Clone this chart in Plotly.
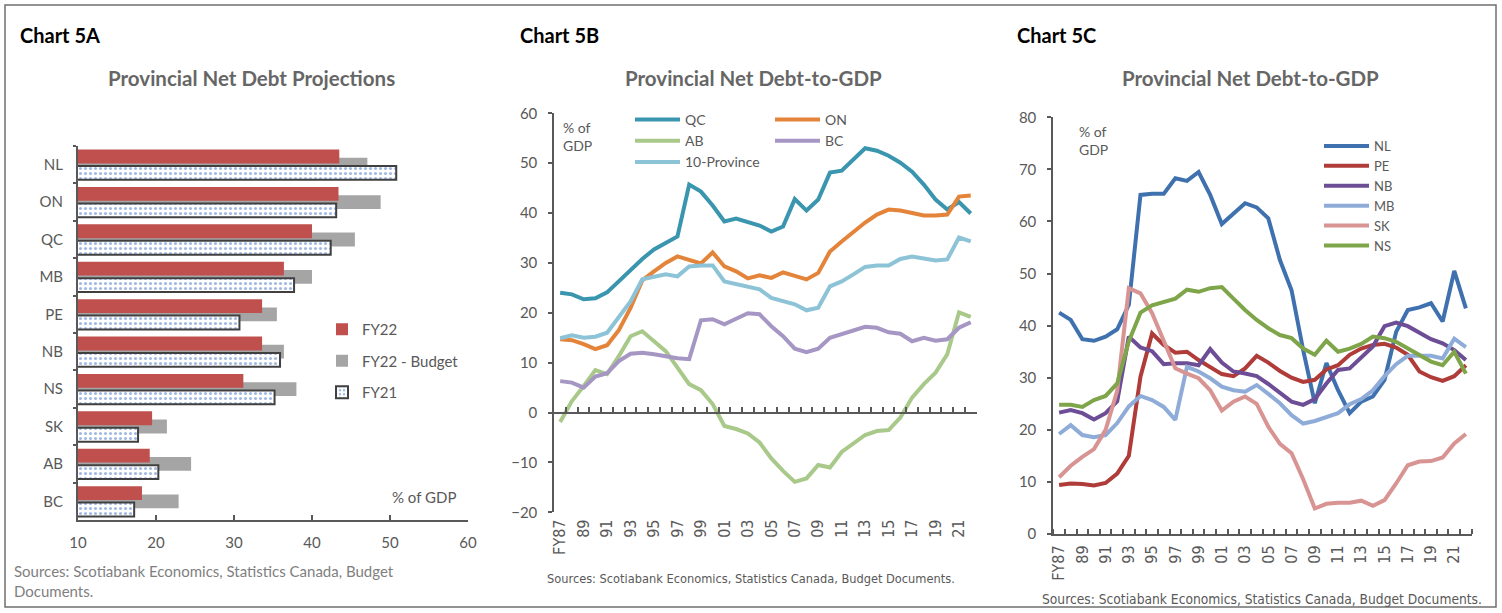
import plotly.graph_objects as go

W, H = 1502, 613
def fx(p): return p / W
def fy(p): return 1 - p / H

HUM = "Lato, 'Open Sans', sans-serif"
NARROW = "'Liberation Sans Narrow', 'Arial Narrow', 'DejaVu Sans Condensed', sans-serif"
GRAY = "#595959"
AXIS = "#595959"

# ---------------- Chart 5A data ----------------
provinces = ["NL", "ON", "QC", "MB", "PE", "NB", "NS", "SK", "AB", "BC"]
fy22 = [43.5, 43.4, 40.0, 36.4, 33.6, 33.6, 31.2, 19.5, 19.2, 18.2]
fy22_budget = [47.1, 48.8, 45.5, 40.0, 35.5, 36.4, 38.0, 21.4, 24.5, 22.9]
fy21 = [50.8, 43.1, 42.4, 37.7, 30.7, 35.9, 35.2, 17.7, 20.3, 17.2]

# ---------------- Years / tick labels ----------------
fiscal_years = list(range(1987, 2023))
label_years = [1987, 1989, 1991, 1993, 1995, 1997, 1999, 2001, 2003, 2005,
               2007, 2009, 2011, 2013, 2015, 2017, 2019, 2021]
label_text = ["FY87", "89", "91", "93", "95", "97", "99", "01", "03", "05",
              "07", "09", "11", "13", "15", "17", "19", "21"]
boundaries = [y - 0.5 for y in fiscal_years] + [fiscal_years[-1] + 0.5]

# ---------------- Chart 5B data ----------------
qc = [24.0, 23.7, 22.7, 22.9, 24.1, 26.3, 28.7, 30.8, 32.7, 33.9, 35.3, 45.7,
      44.3, 41.5, 38.3, 38.9, 38.3, 37.5, 36.3, 37.3, 42.8, 40.5, 42.7, 48.1,
      48.5, 50.8, 53.0, 52.5, 51.5, 50.1, 48.3, 45.7, 42.7, 40.7, 42.2, 39.9]
on = [14.7, 14.5, 13.7, 12.7, 13.5, 16.5, 21.0, 26.5, 28.3, 30.0, 31.3, 30.7,
      29.9, 32.1, 29.3, 28.3, 26.9, 27.5, 27.0, 28.1, 27.3, 26.7, 28.0, 32.3,
      34.3, 36.3, 38.1, 39.7, 40.7, 40.5, 40.0, 39.5, 39.5, 39.7, 43.3, 43.5]
ab = [-1.9, 2.3, 5.3, 8.5, 7.7, 11.3, 15.3, 16.3, 14.3, 12.3, 9.0, 5.7,
      4.5, 1.7, -2.7, -3.3, -4.2, -6.0, -9.2, -11.7, -13.9, -13.2, -10.5, -11.0,
      -7.9, -6.1, -4.5, -3.7, -3.5, -1.0, 3.0, 5.7, 8.0, 11.7, 20.1, 19.2]
bc = [6.3, 6.0, 5.0, 7.2, 7.9, 10.3, 11.8, 12.0, 11.7, 11.2, 10.9, 10.7,
      18.5, 18.7, 17.7, 18.8, 19.9, 19.7, 17.3, 15.3, 12.8, 12.1, 12.8, 15.0,
      15.8, 16.5, 17.2, 17.0, 16.1, 15.8, 14.3, 15.0, 14.4, 14.7, 17.0, 18.1]
prov10 = [14.9, 15.5, 15.0, 15.2, 16.0, 19.0, 22.3, 26.7, 27.3, 27.7, 27.3, 29.3,
          29.5, 29.5, 26.3, 25.8, 25.3, 24.7, 23.0, 22.3, 21.7, 20.5, 21.0, 25.3,
          26.3, 27.7, 29.2, 29.5, 29.5, 30.8, 31.3, 30.9, 30.5, 30.7, 35.1, 34.3]

# ---------------- Chart 5C data ----------------
nl = [42.5, 41.1, 37.4, 37.1, 37.9, 39.3, 44.0, 65.1, 65.3, 65.3, 68.3, 67.8,
      69.5, 65.1, 59.5, 61.6, 63.5, 62.7, 60.6, 52.6, 46.8, 35.3, 25.1, 32.8,
      27.6, 23.2, 25.4, 26.4, 29.6, 38.8, 43.0, 43.5, 44.3, 40.8, 50.5, 43.3]
pe = [9.4, 9.7, 9.6, 9.3, 9.8, 11.6, 15.0, 30.2, 38.5, 36.3, 34.8, 35.0,
      33.4, 32.0, 30.7, 30.3, 31.8, 34.2, 32.9, 31.3, 30.0, 29.2, 29.6, 31.6,
      32.4, 34.4, 35.6, 36.3, 36.5, 35.8, 34.4, 31.2, 30.1, 29.4, 30.3, 32.4]
nb = [23.3, 23.8, 23.2, 22.0, 23.2, 25.5, 37.9, 35.8, 35.1, 32.6, 32.8, 32.8,
      32.4, 35.5, 32.9, 31.2, 30.8, 30.3, 28.8, 27.0, 25.4, 24.8, 25.9, 28.9,
      31.5, 31.8, 33.9, 36.0, 39.9, 40.6, 39.9, 38.6, 37.4, 36.6, 35.3, 33.4]
mb = [19.2, 20.9, 19.0, 18.6, 19.0, 21.3, 24.5, 26.5, 25.7, 24.4, 21.9, 32.1,
      31.2, 29.9, 28.3, 27.6, 27.3, 28.6, 26.9, 25.1, 22.8, 21.2, 21.7, 22.5,
      23.2, 24.9, 25.9, 27.6, 30.3, 32.6, 34.2, 34.2, 34.2, 33.7, 37.5, 35.9]
sk = [10.9, 13.1, 14.8, 16.3, 20.0, 27.5, 47.2, 46.2, 42.4, 37.2, 31.8, 30.8,
      29.9, 27.6, 23.7, 25.4, 26.4, 25.0, 20.6, 17.3, 15.5, 10.5, 4.9, 5.8,
      6.0, 6.0, 6.4, 5.4, 6.5, 9.7, 13.2, 13.9, 14.0, 14.7, 17.4, 19.2]
ns = [24.8, 24.8, 24.4, 25.7, 26.5, 28.9, 37.0, 42.5, 43.9, 44.5, 45.2, 46.9,
      46.5, 47.2, 47.4, 45.2, 43.0, 41.1, 39.5, 38.2, 37.6, 35.6, 34.4, 37.1,
      35.0, 35.6, 36.5, 37.9, 37.6, 36.9, 35.6, 34.2, 33.1, 32.4, 35.0, 30.8]

fig = go.Figure()

# ---------------- Chart 5A bars ----------------
BW = 0.37
fig.add_trace(go.Bar(
    y=provinces, x=fy22_budget, orientation="h", name="FY22 - Budget",
    marker=dict(color="#A5A5A5", line=dict(width=0)),
    width=BW, offset=-BW / 2, xaxis="x", yaxis="y",
    legend="legend", legendrank=2, legendgroup="g2", hoverinfo="skip"))
fig.add_trace(go.Bar(
    y=provinces, x=fy22, orientation="h", name="FY22",
    marker=dict(color="#C0504D", line=dict(width=0)),
    width=BW, offset=-0.22 - BW / 2, xaxis="x", yaxis="y",
    legend="legend", legendrank=1, legendgroup="g1", hoverinfo="skip"))
fig.add_trace(go.Bar(
    y=provinces, x=fy21, orientation="h", name="FY21",
    marker=dict(color="white",
                pattern=dict(shape=".", fgcolor="#4472C4", bgcolor="white",
                             size=5, solidity=0.3),
                line=dict(color="#404040", width=2)),
    width=BW, offset=0.22 - BW / 2, xaxis="x", yaxis="y",
    legend="legend", legendrank=3, legendgroup="g3", hoverinfo="skip"))

# ---------------- Chart 5B lines ----------------
b_series = [
    ("QC", qc, "#3A95AE", "legend2"),
    ("ON", on, "#E3843A", "legend3"),
    ("AB", ab, "#A9C98B", "legend2"),
    ("BC", bc, "#A596C4", "legend3"),
    ("10-Province", prov10, "#8DC3D7", "legend2"),
]
for name, vals, col, lg in b_series:
    fig.add_trace(go.Scatter(
        x=fiscal_years, y=vals, mode="lines", name=name,
        line=dict(color=col, width=4), xaxis="x2", yaxis="y2",
        legend=lg, hoverinfo="skip"))
# carrier for the zero-line axis
fig.add_trace(go.Scatter(x=[], y=[], xaxis="x3", yaxis="y2",
                         showlegend=False, hoverinfo="skip"))

# ---------------- Chart 5C lines ----------------
c_series = [
    ("NL", nl, "#3F71AE"),
    ("PE", pe, "#B03C3A"),
    ("NB", nb, "#6D4E96"),
    ("MB", mb, "#8FACD9"),
    ("SK", sk, "#D89493"),
    ("NS", ns, "#7FA54A"),
]
for name, vals, col in c_series:
    fig.add_trace(go.Scatter(
        x=fiscal_years, y=vals, mode="lines", name=name,
        line=dict(color=col, width=4), xaxis="x4", yaxis="y3",
        legend="legend4", hoverinfo="skip"))

tickfont = dict(family=HUM, size=15, color=GRAY)
narrowfont = dict(family=NARROW, size=16, color=GRAY)

fig.update_layout(
    width=W, height=H, autosize=False,
    margin=dict(l=0, r=0, t=0, b=0, autoexpand=False),
    paper_bgcolor="white", plot_bgcolor="white",
    barmode="overlay",
    # 5A axes
    xaxis=dict(domain=[fx(78), fx(468)], range=[10, 60], tick0=10, dtick=10,
               anchor="y", showgrid=False, zeroline=False, showline=True,
               linecolor=AXIS, linewidth=2, ticks="inside", ticklen=5,
               tickcolor=AXIS, tickwidth=2, tickfont=tickfont,
               ticklabelstandoff=8, automargin=False),
    yaxis=dict(domain=[fy(520), fy(146)], type="category",
               categoryarray=provinces, range=[9.5, -0.5], anchor="x",
               showgrid=False, zeroline=False, showline=True, linecolor=AXIS,
               linewidth=2, ticks="outside", ticklen=3, tickson="boundaries",
               tickcolor=AXIS, tickwidth=2, tickfont=tickfont,
               ticklabelstandoff=10, automargin=False),
    # 5B axes
    xaxis2=dict(domain=[fx(554.3), fx(976.6)], range=[1986.5, 2022.5],
                anchor="y2", showgrid=False, zeroline=False, showline=False,
                ticks="", tickmode="array", tickvals=label_years,
                ticktext=label_text, tickangle=-90, tickfont=narrowfont,
                ticklabelstandoff=3, automargin=False),
    xaxis3=dict(overlaying="x2", anchor="free",
                position=fy(413.3), range=[1986.5, 2022.5],
                showgrid=False, zeroline=False, showline=True, linecolor=AXIS,
                linewidth=2, ticks="inside", ticklen=5, tickcolor=AXIS,
                tickwidth=1.5, tickmode="array", tickvals=boundaries,
                showticklabels=False, automargin=False),
    yaxis2=dict(domain=[fy(512.3), fy(113.3)], range=[-20, 60], dtick=10,
                anchor="x2", showgrid=False, zeroline=False, showline=True,
                linecolor=AXIS, linewidth=2, ticks="outside", ticklen=4,
                tickcolor=AXIS, tickwidth=2, tickfont=tickfont,
                ticklabelstandoff=8, automargin=False),
    # 5C axes
    xaxis4=dict(domain=[fx(1053.3), fx(1471.7)], range=[1986.5, 2022.5],
                anchor="y3", showgrid=False, zeroline=False, showline=True,
                linecolor=AXIS, linewidth=2, ticks="", tickmode="array",
                tickvals=label_years, ticktext=label_text, tickangle=-90,
                tickfont=narrowfont, ticklabelstandoff=3, automargin=False,
                minor=dict(tickmode="array", tickvals=boundaries,
                           ticks="inside", ticklen=5, tickcolor=AXIS,
                           tickwidth=1.5)),
    yaxis3=dict(domain=[fy(534), fy(117.3)], range=[0, 80], dtick=10,
                anchor="x4", showgrid=False, zeroline=False, showline=True,
                linecolor=AXIS, linewidth=2, ticks="outside", ticklen=4,
                tickcolor=AXIS, tickwidth=2, tickfont=tickfont,
                ticklabelstandoff=8, automargin=False),
    legend=dict(x=fx(322), y=fy(313), xanchor="left", yanchor="top",
                font=dict(family=HUM, size=15, color=GRAY),
                bgcolor="rgba(0,0,0,0)", tracegroupgap=9,
                itemwidth=30, traceorder="grouped"),
    legend2=dict(x=fx(630), y=fy(104), xanchor="left", yanchor="top",
                 font=dict(family=HUM, size=14, color=GRAY),
                 bgcolor="rgba(0,0,0,0)", itemwidth=45),
    legend3=dict(x=fx(770), y=fy(104), xanchor="left", yanchor="top",
                 font=dict(family=HUM, size=14, color=GRAY),
                 bgcolor="rgba(0,0,0,0)", itemwidth=45),
    legend4=dict(x=fx(1319), y=fy(131), xanchor="left", yanchor="top",
                 font=dict(family=HUM, size=13, color=GRAY),
                 bgcolor="rgba(0,0,0,0)", itemwidth=45),
)

ann = []
def add_text(text, x, y, xanchor="left", yanchor="middle", size=15,
             color=GRAY, family=HUM, bold=False, align="left"):
    ann.append(dict(text=("<b>%s</b>" % text) if bold else text,
                    x=fx(x), y=fy(y), xref="paper", yref="paper",
                    xanchor=xanchor, yanchor=yanchor, showarrow=False,
                    align=align, font=dict(family=family, size=size, color=color)))

# panel labels and titles
add_text("Chart 5A", 18, 35, size=20, color="black", bold=True)
add_text("Chart 5B", 518, 35, size=20, color="black", bold=True)
add_text("Chart 5C", 1015, 35, size=20, color="black", bold=True)
add_text("Provincial Net Debt Projections", 251, 78, xanchor="center", size=20.5, color="#666666", bold=True)
add_text("Provincial Net Debt-to-GDP", 753, 78, xanchor="center", size=20.5, color="#666666", bold=True)
add_text("Provincial Net Debt-to-GDP", 1250, 78, xanchor="center", size=20.5, color="#666666", bold=True)

# unit labels
add_text("% of GDP", 458, 497, xanchor="right", size=15)
add_text("% of<br>GDP", 561, 117, yanchor="top", size=14)
add_text("% of<br>GDP", 1077, 121, yanchor="top", size=14)

# sources
add_text("Sources: Scotiabank Economics, Statistics Canada, Budget<br>Documents.",
         12, 581, size=15, color="#7F7F7F")
add_text("Sources: Scotiabank Economics, Statistics Canada, Budget Documents.",
         545, 578, size=12.7, color="#595959", family=NARROW)
add_text("Sources: Scotiabank Economics, Statistics Canada, Budget Documents.",
         1040, 599, size=13.7, color="#595959", family=NARROW)

fig.update_layout(annotations=ann)

fig.add_shape(type="rect", xref="paper", yref="paper",
              x0=fx(5), x1=fx(1496), y0=fy(607), y1=fy(5),
              line=dict(color="#6F6F6F", width=1.5), fillcolor="rgba(0,0,0,0)",
              layer="above")

fig.write_html("out.html")
